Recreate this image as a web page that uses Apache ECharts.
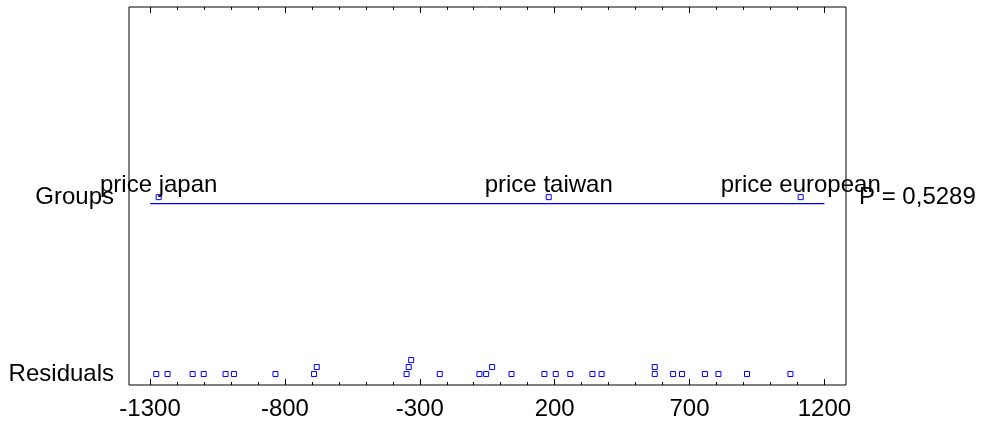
<!DOCTYPE html>
<html>
<head>
<meta charset="utf-8">
<script src="https://cdn.jsdelivr.net/npm/echarts@6/dist/echarts.min.js"></script>
<style>
  html, body { margin: 0; padding: 0; background: #ffffff; }
  #chart { width: 985px; height: 428px; }
</style>
</head>
<body>
<div id="chart"></div>
<script>
// Graphical ANOVA: scaled group effects above the residuals
const groupNames = ['price japan', 'price taiwan', 'price european'];
const groupValues = [-1268, 178, 1112];
const residuals = [
  -1277, -1235, -1142, -1101, -1020, -989, -835, -692, -682,
  -349, -341, -332, -226, -79, -54, -32, 40, 162, 204, 258,
  340, 374, 571, 571, 639, 672, 757, 807, 913, 1074
];
const rowLabels = ['Residuals', 'Groups'];
const pValueText = 'P = 0,5289';
const xTickLabels = [-1300, -800, -300, 200, 700, 1200];
const xMinorTicks = [
  -1300, -1200, -1100, -1000, -900, -800, -700, -600, -500, -400,
  -300, -200, -100, 0, 100, 200, 300, 400, 500, 600,
  700, 800, 900, 1000, 1100, 1200
];
const groupLineEnds = [-1300, 1200];

// layout constants (vertical axis runs 0..100)
const X_MIN = -1378, X_MAX = 1280;
const RES_ROW = 2.9;       // baseline of the residual dot plot
const STACK_STEP = 1.85;   // height of one stacked dot
const GROUP_ROW = 49.7;    // group markers
const GROUP_LINE = 47.96;  // horizontal reference line
const STACK_GAP = 24;      // dots closer than this share a column

const BLUE = '#0000ff';
const FONT = "'Liberation Sans', Arial, sans-serif";

// stack residual dots that would overlap
const sorted = residuals.slice().sort((a, b) => a - b);
const residualPoints = [];
let colStart = null, level = 0;
sorted.forEach(v => {
  if (colStart !== null && v - colStart < STACK_GAP) {
    level += 1;
  } else {
    colStart = v;
    level = 0;
  }
  residualPoints.push([v, RES_ROW + level * STACK_STEP]);
});

const rowByValue = v => (Math.abs(v - RES_ROW) < 0.01 ? rowLabels[0] : rowLabels[1]);

function xAxisDef(position, ticks, len, withLabels) {
  return {
    type: 'value',
    gridIndex: 0,
    position: position,
    min: X_MIN,
    max: X_MAX,
    axisLine: { show: false },
    splitLine: { show: false },
    axisTick: {
      show: true,
      inside: true,
      length: len,
      customValues: ticks,
      lineStyle: { color: '#000000', width: 1 }
    },
    axisLabel: withLabels ? {
      show: true,
      customValues: xTickLabels,
      formatter: v => String(v),
      margin: 12,
      fontSize: 24,
      fontFamily: FONT,
      color: '#000000'
    } : { show: false }
  };
}

const chart = echarts.init(document.getElementById('chart'), null, { renderer: 'canvas' });

chart.setOption({
  animation: false,
  backgroundColor: '#ffffff',
  color: [BLUE],
  grid: {
    left: 129, right: 139, top: 7, bottom: 43,
    show: true,
    borderColor: '#000000',
    borderWidth: 1,
    backgroundColor: 'transparent'
  },
  xAxis: [
    xAxisDef('bottom', xTickLabels, 6, true),
    xAxisDef('bottom', xMinorTicks, 3, false),
    xAxisDef('top', xTickLabels, 6, false),
    xAxisDef('top', xMinorTicks, 3, false)
  ],
  yAxis: [
    {
      type: 'value',
      position: 'left',
      min: 0,
      max: 100,
      axisLine: { show: false },
      axisTick: { show: false },
      splitLine: { show: false },
      axisLabel: {
        customValues: [RES_ROW, GROUP_ROW],
        formatter: v => rowByValue(v),
        margin: 15,
        fontSize: 24,
        fontFamily: FONT,
        color: '#000000'
      }
    },
    {
      type: 'value',
      position: 'right',
      min: 0,
      max: 100,
      axisLine: { show: false },
      axisTick: { show: false },
      splitLine: { show: false },
      axisLabel: {
        customValues: [GROUP_ROW],
        formatter: () => pValueText,
        margin: 13,
        fontSize: 24,
        fontFamily: FONT,
        color: '#000000'
      }
    }
  ],
  series: [
    {
      name: 'group line',
      type: 'line',
      xAxisIndex: 0,
      yAxisIndex: 0,
      color: BLUE,
      data: groupLineEnds.map(v => [v, GROUP_LINE]),
      symbol: 'none',
      itemStyle: { color: BLUE },
      lineStyle: { color: BLUE, width: 1.2, opacity: 1 },
      silent: true,
      z: 3
    },
    {
      name: 'groups',
      type: 'scatter',
      xAxisIndex: 0,
      yAxisIndex: 0,
      symbol: 'rect',
      symbolSize: 5,
      itemStyle: { color: '#ffffff', borderColor: BLUE, borderWidth: 1, opacity: 1 },
      data: groupValues.map((v, i) => ({ name: groupNames[i], value: [v, GROUP_ROW] })),
      label: {
        show: true,
        position: 'top',
        distance: -3,
        formatter: '{b}',
        fontSize: 24,
        fontFamily: FONT,
        color: '#000000',
        opacity: 1
      },
      z: 4
    },
    {
      name: 'residuals',
      type: 'scatter',
      xAxisIndex: 0,
      yAxisIndex: 0,
      symbol: 'rect',
      symbolSize: 5,
      itemStyle: { color: '#ffffff', borderColor: BLUE, borderWidth: 1, opacity: 1 },
      data: residualPoints,
      z: 4
    }
  ]
});
</script>
</body>
</html>
